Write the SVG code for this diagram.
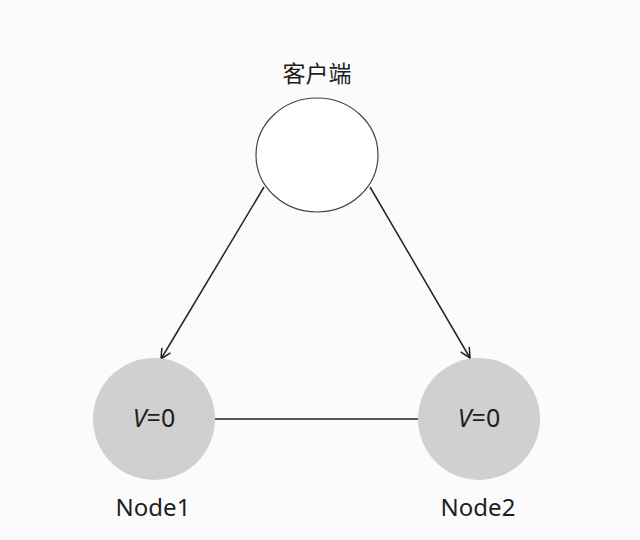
<svg xmlns="http://www.w3.org/2000/svg" width="640" height="540" viewBox="0 0 640 540">
<style>
.lbl{font-family:"Noto Sans","Open Sans","Noto Sans CJK SC",sans-serif;fill:#1e1e1e;text-anchor:middle}
.edge{stroke:#222;stroke-width:1.5;fill:none}
.node{fill:#d0d0d0;stroke:none}
</style>
<defs>
<marker id="arr" viewBox="0 0 12 12" refX="11" refY="6" markerWidth="12" markerHeight="12" markerUnits="userSpaceOnUse" orient="auto">
<path d="M1,1 L11,6 L1,11" fill="none" stroke="#222" stroke-width="1.5"/>
</marker>
</defs>
<rect width="640" height="540" fill="#fbfbfb"/>
<g id="connectors">
<line class="edge" x1="264" y1="187" x2="161" y2="359" marker-end="url(#arr)"/>
<line class="edge" x1="370" y1="187" x2="470" y2="358" marker-end="url(#arr)"/>
<line class="edge" x1="215" y1="419" x2="418" y2="419"/>
</g>
<g id="client">
<ellipse cx="317" cy="155" rx="61" ry="57" fill="#fff" stroke="#444" stroke-width="1.2"/>
<text class="lbl" x="317" y="82" font-size="23" font-family="'Noto Sans CJK SC',sans-serif">客户端</text>
</g>
<g id="node1">
<circle class="node" cx="154" cy="419" r="61"/>
<text class="lbl" x="154" y="427" font-size="25"><tspan font-style="italic">V</tspan>=0</text>
<text class="lbl" x="153" y="516" font-size="24">Node1</text>
</g>
<g id="node2">
<circle class="node" cx="479" cy="419" r="61"/>
<text class="lbl" x="479" y="427" font-size="25"><tspan font-style="italic">V</tspan>=0</text>
<text class="lbl" x="478" y="516" font-size="24">Node2</text>
</g>
</svg>
